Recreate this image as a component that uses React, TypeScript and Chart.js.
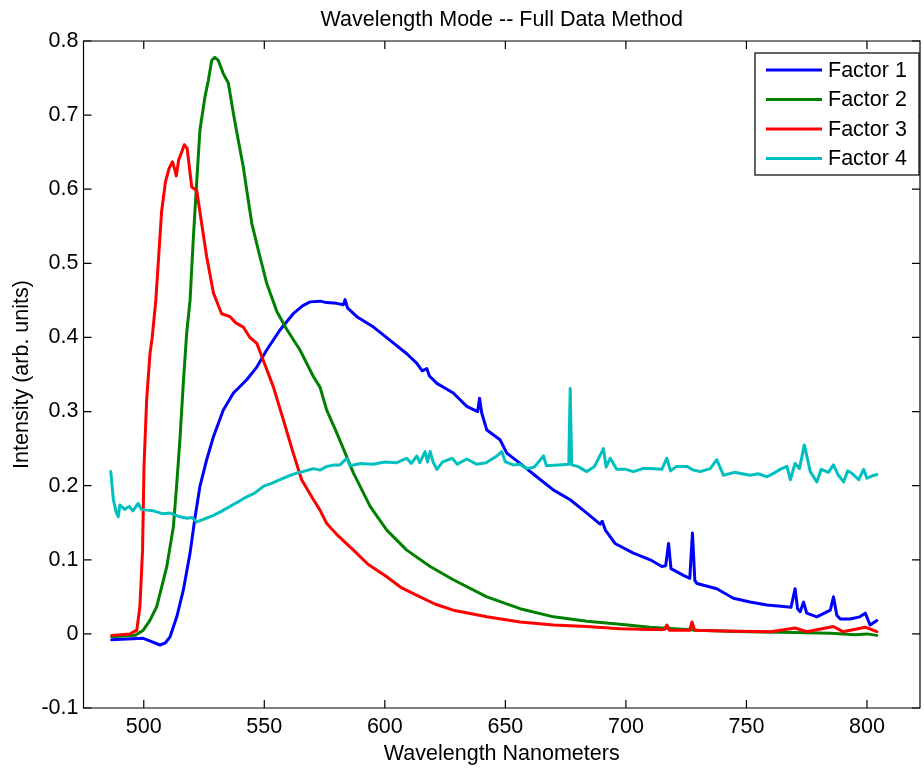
import React, { useEffect, useRef } from "react";
import { Chart, registerables } from "chart.js";

Chart.register(...registerables);

const CHART_TITLE = "Wavelength Mode -- Full Data Method";
const X_TITLE = "Wavelength Nanometers";
const Y_TITLE = "Intensity (arb. units)";
const SERIES_NAMES = ["Factor 1", "Factor 2", "Factor 3", "Factor 4"];
const SERIES_COLORS = ["#0000ff", "#008000", "#ff0000", "#00bfbf"];
const X_TICKS = [500, 550, 600, 650, 700, 750, 800];
const Y_TICKS = [-0.1, 0, 0.1, 0.2, 0.3, 0.4, 0.5, 0.6, 0.7, 0.8];
const X_MIN = 475;
const X_MAX = 822;
const Y_MIN = -0.1;
const Y_MAX = 0.8;

// Factor 1 (blue)
const f1Wavelength = [
  486.7, 493, 499.8, 503, 506.7, 509, 510.9, 513.7, 516.4, 519.2, 521.3, 523.3, 526.1, 528.9, 533,
  537.2, 542.7, 546.9, 551, 556.5, 562, 566, 569, 573.1, 575.9, 580, 582.8, 583.5, 584.5, 588.4,
  595.3, 602.2, 609.1, 613.3, 615.5, 617.4, 618.5, 621.6, 628.4, 634, 638.5, 639.3, 640.2, 642.3,
  647.8, 650.6, 656.1, 663, 670, 676.9, 683.8, 689.3, 690.2, 691.5, 695.5, 703.1, 710.1, 714.9,
  716.5, 717.7, 718.7, 723.9, 726.5, 727.6, 728.6, 729.5, 737.7, 744.6, 751.5, 758.5, 765.4, 768.5,
  770.2, 771.2, 772.3, 773.7, 775, 779.2, 784.8, 786.1, 787.5, 788.9, 793, 797, 799.3, 801.3, 804.1,
];
const f1Intensity = [
  -0.008, -0.007, -0.006, -0.01, -0.015, -0.012, -0.004, 0.023, 0.059, 0.109, 0.158, 0.199, 0.235,
  0.266, 0.302, 0.325, 0.343, 0.36, 0.383, 0.41, 0.432, 0.443, 0.448, 0.449, 0.447, 0.446, 0.444,
  0.451, 0.44, 0.428, 0.414, 0.396, 0.378, 0.365, 0.355, 0.358, 0.348, 0.338, 0.325, 0.307, 0.3,
  0.318, 0.298, 0.275, 0.262, 0.244, 0.23, 0.212, 0.194, 0.181, 0.163, 0.148, 0.152, 0.14, 0.122,
  0.109, 0.1, 0.091, 0.092, 0.122, 0.088, 0.079, 0.075, 0.136, 0.072, 0.068, 0.061, 0.048, 0.043,
  0.039, 0.037, 0.036, 0.061, 0.034, 0.03, 0.043, 0.028, 0.023, 0.032, 0.05, 0.025, 0.02, 0.02,
  0.023, 0.028, 0.012, 0.018,
];

// Factor 2 (green)
const f2Wavelength = [
  486.7, 496.4, 499.8, 502.5, 505.4, 509.5, 512.3, 513.7, 515, 516.4, 517.8, 519.2, 520.6, 522,
  523.3, 525.4, 526.8, 528.2, 529.5, 530.9, 533, 535.1, 537.2, 539.2, 541.3, 542.7, 544.8, 547.5,
  551, 555.2, 559.3, 564.8, 570.4, 573.1, 575.9, 580.1, 587, 593.9, 600.8, 609.1, 618.8, 628.4,
  642.3, 656.1, 670, 683.8, 697.6, 710, 730, 750, 770, 785, 795, 800, 804.1,
];
const f2Intensity = [
  -0.004, -0.002, 0.005, 0.018, 0.037, 0.09, 0.145, 0.203, 0.262, 0.338, 0.406, 0.45, 0.536, 0.612,
  0.68, 0.725, 0.747, 0.774, 0.778, 0.774, 0.756, 0.743, 0.702, 0.666, 0.63, 0.599, 0.554, 0.518,
  0.473, 0.435, 0.411, 0.383, 0.347, 0.333, 0.302, 0.271, 0.217, 0.172, 0.14, 0.113, 0.091, 0.073,
  0.05, 0.034, 0.023, 0.017, 0.013, 0.009, 0.005, 0.003, 0.002, 0.001, -0.001, 0.0, -0.002,
];

// Factor 3 (red)
const f3Wavelength = [
  486.7, 494.3, 497.1, 498.4, 499.5, 500.1, 501.2, 502.6, 503.5, 505, 506, 507.4, 509, 510.5, 511.9,
  513, 513.5, 514.5, 515.5, 516.8, 518, 519.9, 522, 524, 526.1, 528.9, 532.3, 535.8, 538, 541.3, 544,
  546.9, 549.6, 553.8, 557.9, 562, 565.5, 570.4, 573.1, 575.9, 580.1, 587, 593, 600.8, 607, 614.6,
  621, 628.4, 642.3, 656.1, 670, 683.8, 697.6, 710, 716, 717, 718, 726.5, 727.4, 728.5, 740, 760,
  770.2, 775, 786.1, 790, 799.3, 804.1,
];
const f3Intensity = [
  -0.002, 0.0, 0.005, 0.037, 0.113, 0.226, 0.316, 0.379, 0.4, 0.45, 0.5, 0.57, 0.61, 0.628, 0.637,
  0.625, 0.618, 0.64, 0.648, 0.66, 0.655, 0.603, 0.598, 0.554, 0.509, 0.46, 0.432, 0.428, 0.42, 0.414,
  0.4, 0.392, 0.369, 0.333, 0.289, 0.244, 0.208, 0.181, 0.167, 0.149, 0.134, 0.113, 0.094, 0.077,
  0.062, 0.05, 0.04, 0.032, 0.023, 0.016, 0.012, 0.01, 0.007, 0.006, 0.006, 0.012, 0.005, 0.005,
  0.016, 0.005, 0.004, 0.003, 0.008, 0.003, 0.01, 0.003, 0.009, 0.003,
];

// Factor 4 (cyan)
const f4Wavelength = [
  486.3, 487.4, 488.5, 489.4, 490.1, 492, 494, 495.5, 497.7, 499, 501.2, 504, 508.1, 511, 515, 518,
  520, 522, 525, 528.9, 532, 535.8, 539, 542.7, 546, 549.6, 553, 556.5, 560, 563.5, 566, 570.4,
  573.1, 576, 579, 581.4, 584.2, 585.5, 590, 595, 600, 605, 609.1, 611, 613.3, 614.5, 616.7, 617.7,
  618.8, 620, 621.6, 624, 628, 630, 634, 638, 642, 646.5, 648.5, 650, 653.3, 656, 658.9, 662, 665.8,
  667, 672, 676.3, 676.9, 677.5, 680, 683.8, 687, 690.7, 691.8, 693.5, 696.2, 700, 703.1, 707, 710.1,
  714.9, 717, 718.5, 721, 725.3, 728, 730.8, 735, 737.7, 740.5, 745, 751.5, 755, 758.5, 762, 764,
  766.8, 768.2, 770.2, 772, 774, 776.5, 779.2, 781, 784, 786.1, 788, 790.3, 792, 794, 796.6, 798.6,
  800, 802, 804.1,
];
const f4Intensity = [
  0.219, 0.181, 0.165, 0.158, 0.174, 0.168, 0.172, 0.166, 0.176, 0.168, 0.167, 0.166, 0.162, 0.163,
  0.158, 0.156, 0.157, 0.151, 0.155, 0.16, 0.165, 0.172, 0.178, 0.185, 0.19, 0.199, 0.203, 0.208,
  0.213, 0.217, 0.219, 0.223, 0.221, 0.226, 0.228, 0.228, 0.237, 0.227, 0.23, 0.229, 0.232, 0.231,
  0.237, 0.23, 0.24, 0.231, 0.246, 0.232, 0.246, 0.232, 0.222, 0.232, 0.237, 0.229, 0.236, 0.229,
  0.231, 0.24, 0.246, 0.232, 0.228, 0.229, 0.223, 0.225, 0.24, 0.227, 0.228, 0.229, 0.331, 0.228,
  0.226, 0.219, 0.226, 0.25, 0.225, 0.237, 0.222, 0.222, 0.219, 0.223, 0.223, 0.222, 0.237, 0.22,
  0.226, 0.226, 0.221, 0.219, 0.223, 0.235, 0.214, 0.218, 0.214, 0.216, 0.212, 0.218, 0.222, 0.226,
  0.208, 0.23, 0.223, 0.255, 0.219, 0.205, 0.222, 0.218, 0.228, 0.215, 0.205, 0.22, 0.216, 0.208,
  0.222, 0.21, 0.213, 0.215,
];

const SERIES_X = [f1Wavelength, f2Wavelength, f3Wavelength, f4Wavelength];
const SERIES_Y = [f1Intensity, f2Intensity, f3Intensity, f4Intensity];

const FONT_FAMILY = "'Liberation Sans', Arial, Helvetica, sans-serif";
const FONT_SIZE = 21.5;

const matlabPlugin = {
  id: "matlabDecor",
  afterDatasetsDraw(chart: any) {
    const { ctx, chartArea: a, scales } = chart;
    const xs = scales.x;
    const ys = scales.y;
    const tl = 8;
    ctx.save();
    ctx.strokeStyle = "#000";
    ctx.lineWidth = 1.2;
    ctx.beginPath();
    ctx.rect(a.left, a.top, a.right - a.left, a.bottom - a.top);
    ctx.stroke();
    ctx.beginPath();
    X_TICKS.forEach((v) => {
      const px = xs.getPixelForValue(v);
      ctx.moveTo(px, a.bottom);
      ctx.lineTo(px, a.bottom - tl);
      ctx.moveTo(px, a.top);
      ctx.lineTo(px, a.top + tl);
    });
    Y_TICKS.forEach((v) => {
      const py = ys.getPixelForValue(v);
      ctx.moveTo(a.left, py);
      ctx.lineTo(a.left + tl, py);
      ctx.moveTo(a.right, py);
      ctx.lineTo(a.right - tl, py);
    });
    ctx.stroke();

    // title
    ctx.fillStyle = "#000";
    ctx.font = `${FONT_SIZE}px ${FONT_FAMILY}`;
    ctx.textAlign = "center";
    ctx.textBaseline = "alphabetic";
    ctx.fillText(CHART_TITLE, (a.left + a.right) / 2, 26);

    // legend box
    const bx = 755;
    const by = 53;
    const bw = 164;
    const bh = 122;
    ctx.fillStyle = "#fff";
    ctx.fillRect(bx, by, bw, bh);
    ctx.strokeStyle = "#000";
    ctx.lineWidth = 1.2;
    ctx.strokeRect(bx, by, bw, bh);
    SERIES_NAMES.forEach((name, i) => {
      const yy = by + 17 + i * 29.5;
      ctx.strokeStyle = SERIES_COLORS[i];
      ctx.lineWidth = 3;
      ctx.beginPath();
      ctx.moveTo(bx + 11, yy);
      ctx.lineTo(bx + 67, yy);
      ctx.stroke();
      ctx.fillStyle = "#000";
      ctx.textAlign = "left";
      ctx.textBaseline = "middle";
      ctx.fillText(name, bx + 73, yy + 1);
    });
    ctx.restore();
  },
};

export default function App() {
  const canvasRef = useRef<HTMLCanvasElement | null>(null);

  useEffect(() => {
    const canvas = canvasRef.current;
    if (!canvas) return;
    const datasets = SERIES_NAMES.map((name, i) => ({
      label: name,
      data: SERIES_X[i].map((xv, j) => ({ x: xv, y: SERIES_Y[i][j] })),
      borderColor: SERIES_COLORS[i],
      backgroundColor: SERIES_COLORS[i],
      borderWidth: 3,
      pointRadius: 0,
      tension: 0,
      fill: false,
      order: 3 - i,
      borderJoinStyle: "round" as const,
      borderCapStyle: "round" as const,
    }));
    const chart = new Chart(canvas, {
      type: "line",
      data: { datasets },
      options: {
        responsive: false,
        animation: false,
        events: [],
        layout: { padding: { top: 41, right: 4, left: 0, bottom: 0 } },
        plugins: {
          legend: { display: false },
          title: { display: false },
          tooltip: { enabled: false },
        },
        scales: {
          x: {
            type: "linear",
            min: X_MIN,
            max: X_MAX,
            afterFit: (s: any) => {
              s.height = 60;
            },
            grid: { display: false, drawTicks: false },
            border: { display: false },
            ticks: {
              stepSize: 50,
              includeBounds: false,
              padding: 6,
              color: "#000",
              font: { size: FONT_SIZE, family: FONT_FAMILY },
              maxRotation: 0,
            },
            title: {
              display: true,
              text: X_TITLE,
              color: "#000",
              font: { size: FONT_SIZE, family: FONT_FAMILY },
              padding: { top: 0, bottom: 1 },
            },
          },
          y: {
            type: "linear",
            min: Y_MIN,
            max: Y_MAX,
            afterFit: (s: any) => {
              s.width = 83.5;
            },
            grid: { display: false, drawTicks: false },
            border: { display: false },
            ticks: {
              stepSize: 0.1,
              padding: 5,
              color: "#000",
              font: { size: FONT_SIZE, family: FONT_FAMILY },
              callback: (v: any) => String(Number(Number(v).toFixed(1))),
            },
            title: {
              display: true,
              text: Y_TITLE,
              color: "#000",
              font: { size: FONT_SIZE, family: FONT_FAMILY },
              padding: { top: 9, bottom: 0 },
            },
          },
        },
      },
      plugins: [matlabPlugin],
    });
    return () => chart.destroy();
  }, []);

  return (
    <div
      style={{
        position: "fixed",
        left: 0,
        top: 0,
        width: 924,
        height: 768,
        background: "#fff",
      }}
    >
      <canvas ref={canvasRef} width={924} height={768} style={{ display: "block" }} />
    </div>
  );
}
